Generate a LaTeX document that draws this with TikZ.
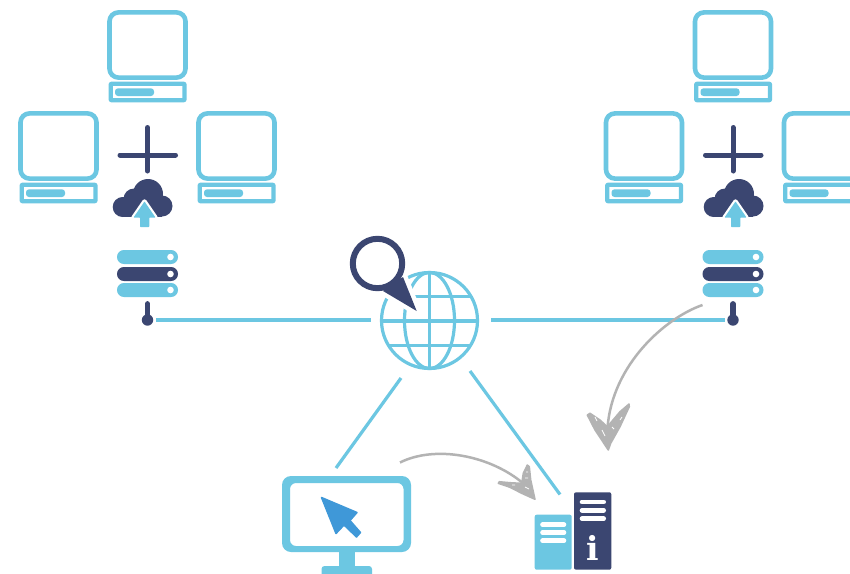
\documentclass[tikz,border=0pt]{standalone}
\usepackage{tikz}
\usepackage{fontspec}
\newfontfamily\infofont{DejaVu Serif}
\definecolor{skyc}{HTML}{6CC7E2}
\definecolor{navyc}{HTML}{3B4671}
\definecolor{cursorc}{HTML}{3F98D8}
\definecolor{sketchc}{HTML}{B3B3B3}
\tikzset{
	link/.style={color=skyc,line width=3.2pt},
	sketch/.style={color=sketchc,line width=2.5pt},
	sketchhead/.style={fill=sketchc,draw=sketchc,line width=1.5pt},
	hatch/.style={color=white,line width=0.8pt},
	whitebar/.style={color=white,line width=4.6pt},
	pcunit/.pic={
		\draw[color=skyc,line width=4.6pt,rounded corners=9pt] (-38,12.4)--(38,12.4)--(38,77.6)--(-38,77.6)--cycle;
		\draw[color=skyc,line width=4.2pt,rounded corners=0.5pt] (-36.8,83.8) rectangle (37,100.2);
		\fill[skyc,rounded corners=3pt] (-32.5,88.3) rectangle (6.5,96);
	},
	cloudup/.pic={
		\fill[navyc] (-22.3,-3) circle (10) (-11,-11) circle (10.5) (3,-16) circle (15) (17,-4) circle (10.5);
		\fill[navyc] (-22.3,-8) rectangle (17,6.5);
		\draw[color=white,line width=4.4pt,line join=round] (-0.5,-8.5)--(10.5,7.5)--(-11.5,7.5)--cycle;
		\fill[skyc,rounded corners=0.6pt] (-0.5,-8.5)--(10.5,7.5)--(4.3,7.5)--(4.3,17)--(-5,17)--(-5,7.5)--(-11.5,7.5)--cycle;
	},
	rackstack/.pic={
		\foreach \ya/\colr in {250/skyc,267/navyc,283/skyc}{
			\fill[\colr,rounded corners=6.9pt] (-30.5,\ya) rectangle (30.5,\ya+14);
			\fill[white] (23,\ya+7) circle (3.3);
		}
		\draw[color=navyc,line width=5.8pt,line cap=round] (0,304)--(0,320);
		\fill[navyc] (0,320) circle (5.7);
	},
}
\begin{document}
\begin{tikzpicture}[x=1pt,y=-1pt,>=stealth,line join=round,line cap=butt]
\clip (0,0) rectangle (850,573);
\def\xleft{147.5} \def\xright{733}
\fill[white] (0,0) rectangle (850,573);

% left group
\pic at (\xleft,0) {pcunit};
\pic at (\xleft-89,101) {pcunit};
\pic at (\xleft+89,101) {pcunit};
\draw[color=navyc,line width=5pt,line cap=round] (\xleft,127.5)--(\xleft,171) (\xleft-27.5,155)--(\xleft+28,155);
\pic at (145,210) {cloudup};
\pic at (\xleft,0) {rackstack};

% right group
\pic at (\xright,0) {pcunit};
\pic at (\xright-89,101) {pcunit};
\pic at (\xright+89,101) {pcunit};
\draw[color=navyc,line width=5pt,line cap=round] (\xright,127.5)--(\xright,171) (\xright-27.5,155)--(\xright+28,155);
\pic at (736,210) {cloudup};
\pic at (\xright,0) {rackstack};

% globe
\coordinate (globe) at (429.5,320.5);
\begin{scope}[shift={(globe)},color=skyc,line width=3.2pt]
	\draw (0,0) circle (48);
	\draw (0,-48)--(0,48);
	\draw (0,-48) arc (-90:90:25 and 48) (0,-48) arc (-90:-270:25 and 48);
	\draw (-41,-24)--(41,-24) (-41,25)--(41,25);
	\draw[line width=4pt] (-48,0)--(48,0);
\end{scope}

% magnifier
\coordinate (lens) at (377.5,263.5);
\coordinate (pintip) at (416.7,311);
\fill[white,draw=white,line width=9pt] (403,277)--(pintip)--(383,291)--cycle;
\draw[color=white,line width=14pt] (lens) circle (24.7);
\fill[white] (lens) circle (24.7);
\fill[navyc] (403,277)--(pintip)--(383,291)--cycle;
\draw[color=navyc,line width=6pt] (lens) circle (24.7);

% bottom monitor
\coordinate (screen) at (346.5,514);
\fill[skyc,even odd rule] [rounded corners=9pt] (282,476) rectangle (411,552) [rounded corners=6pt] (290,483) rectangle (403.5,546);
\fill[skyc] (339,550) rectangle (355,568);
\fill[skyc,rounded corners=3pt] (321.5,566) rectangle (372,580);
\fill[cursorc,draw=cursorc,line width=1.5pt] (321.5,497.5)--(357,512.5)--(350,520.5)--(360.5,532.5)--(356.5,537)--(344,525)--(336,533.5)--cycle;

% bottom servers
\fill[skyc,rounded corners=2pt] (534.7,514.7) rectangle (571.7,569.7);
\fill[navyc,rounded corners=2pt] (574,492.3) rectangle (611.3,569.7);
\foreach \yb in {524.7,532.5,540.7}{
	\draw[whitebar,line cap=round] (542.5,\yb)--(564,\yb);
}
\foreach \yb in {502,510.3,518.7}{
	\draw[whitebar,line cap=round] (582,\yb)--(603.7,\yb);
}
\node[inner sep=0pt,anchor=base,text=white,font=\fontsize{33}{33}\selectfont\infofont\bfseries] (infomark) at (592.4,560.3) {i};

% connectors
\coordinate (hubleft) at (156,320);
\coordinate (hubright) at (725,320);
\coordinate (globewest) at (371,320);
\coordinate (globeeast) at (491,320);
\coordinate (globesw) at (401,378);
\coordinate (globese) at (470,371);
\coordinate (screentop) at (336,468);
\coordinate (servertop) at (560,494.5);
\draw[link] (hubleft)--(globewest);
\draw[link] (globeeast)--(hubright);
\draw[link] (globesw)--(screentop);
\draw[link] (globese)--(servertop);

% sketched arrows
\coordinate (rackend) at (702.5,305);
\coordinate (rackarrow) at (607.5,428);
\coordinate (screenend) at (400,462.5);
\coordinate (serverarrow) at (524,484);
\draw[sketch] (rackend) .. controls (665,318) and (612,365) .. (rackarrow);
\fill[sketchhead] (608.3,450)--(595,430)--(587.3,415)--(590,413.3)--(600,420)--(607.3,426.7)--(620,411.7)--(629,404)--(629.3,406.7)--(620,426.7)--(610.7,443.3)--cycle;
\draw[hatch] (595,417)--(597,421) (602,430)--(605,436) (612,427)--(614,429) (620,420)--(622,417);
\draw[sketch] (screenend) .. controls (435,445) and (490,455) .. (serverarrow);
\fill[sketchhead] (535,499.3)--(521.7,493.3)--(510,487.3)--(498.3,483.3)--(499.3,481.7)--(510,482.7)--(521.7,483.3)--(523.3,473.3)--(527.3,465)--(529.3,466.7)--(530.7,480)--(533.3,491.7)--cycle;
\draw[hatch] (526,472)--(528,472) (525,478)--(528,478) (512,485)--(515,485) (525,487)--(529,489);
\end{tikzpicture}
\end{document}
